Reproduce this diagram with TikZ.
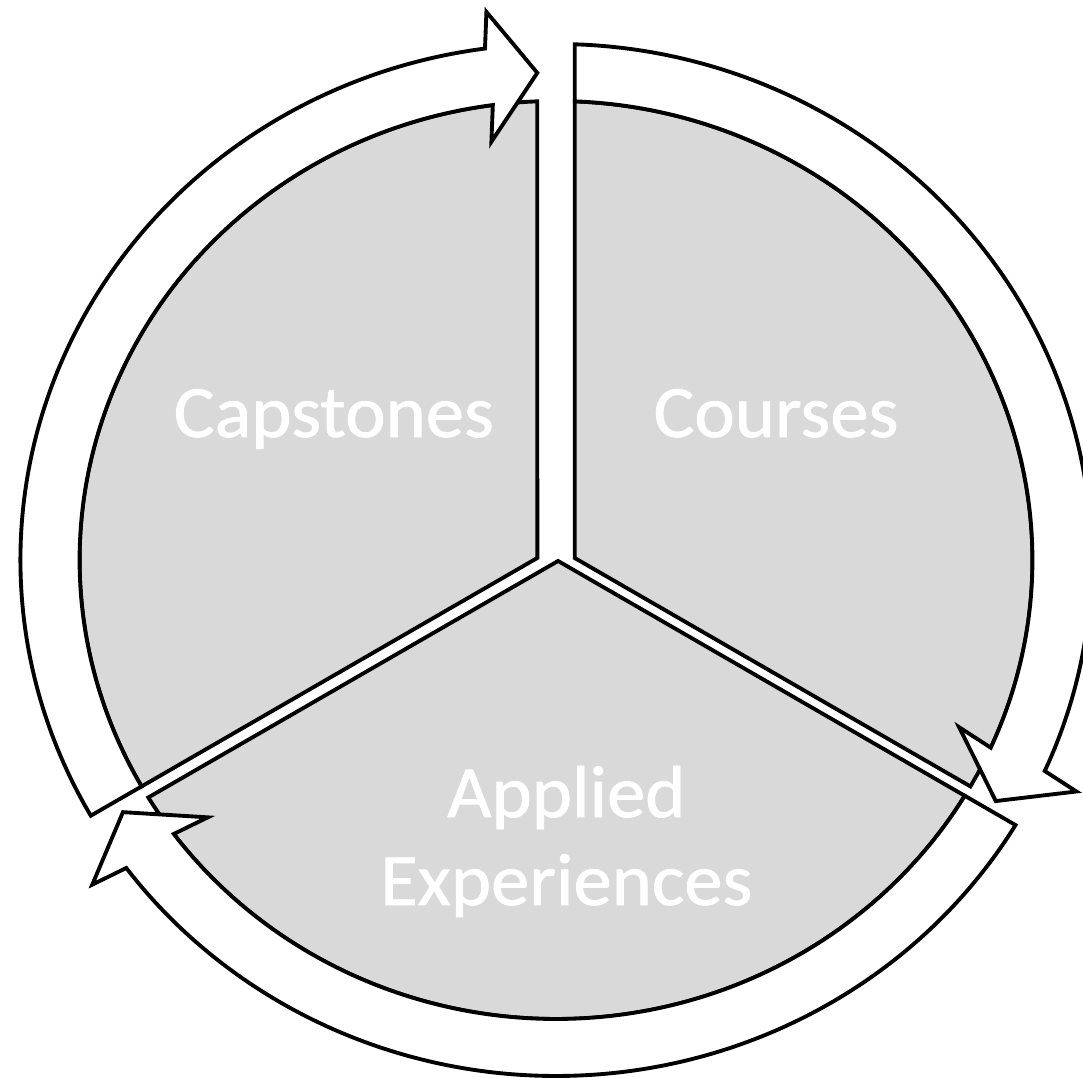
\documentclass[tikz,border=0pt]{standalone}
\usepackage{fontspec}
\setmainfont{Carlito}
\newfontfamily\labelfont{Carlito}[FakeBold=1]
\usetikzlibrary{calc}
\definecolor{light-gray}{gray}{0.85}
\tikzstyle{segment}=[fill=light-gray,draw=black,line width=1.1pt,line join=miter]
\tikzstyle{cyclearrow}=[fill=white,draw=black,line width=1.1pt,line join=miter]
\tikzstyle{segmentlabel}=[text=white,font=\labelfont\fontsize{21}{25}\selectfont,align=center,anchor=base,transform shape]
\newcommand{\rin}{4.59}    % inner radius of the ring (= radius of the segments)
\newcommand{\rout}{5.16}   % outer radius of the ring
\newcommand{\rmid}{4.875}
\newcommand{\headw}{0.65}  % half width of an arrow head
\newcommand{\headlen}{5.5} % length of an arrow head, in degrees
\newcommand{\drawcyclearrow}[3]{ % #1 tail angle inside, #2 tail angle outside, #3 angle of the tip
  \pgfmathsetmacro{\joint}{#3+\headlen}
  % back of the head is parallel to the radius through the tip
  \draw[cyclearrow] (#2:\rout) arc (#2:\joint:\rout)
    -- ($(\joint:\rmid)+(#3:\headw)$) -- (#3:\rmid) -- ($(\joint:\rmid)-(#3:\headw)$)
    -- (\joint:\rin) arc (\joint:#1:\rin) -- cycle;
}

\begin{document}
\begin{tikzpicture}
\useasboundingbox (-5.56,-5.18) rectangle (5.27,5.60);
\begin{scope}[xscale=1.038]
	% segments
	\draw[segment] (-0.18,0.02) -- (92.25:\rin) arc (92.25:209.56:\rin) -- cycle;
	\draw[segment] (0.18,0.02) -- (-29.56:\rin) arc (-29.56:87.75:\rin) -- cycle;
	\draw[segment] (0.02,-0.01) -- (211.16:\rin) arc (211.16:329.09:\rin) -- cycle;
	% arrows round the segments, clockwise
	\drawcyclearrow{209.56}{209.71}{92.12}
	\drawcyclearrow{87.75}{88.0}{-29.64}
	\drawcyclearrow{329.09}{329.09}{211.15}
	% labels
	\node[segmentlabel] (capstones) at (-2.14,1.23) {Capstones};
	\node[segmentlabel] (courses) at (2.12,1.23) {Courses};
	\node[segmentlabel] (applied) at (0.10,-3.45) {Applied\\Experiences};
\end{scope}
\end{tikzpicture}
\end{document}
